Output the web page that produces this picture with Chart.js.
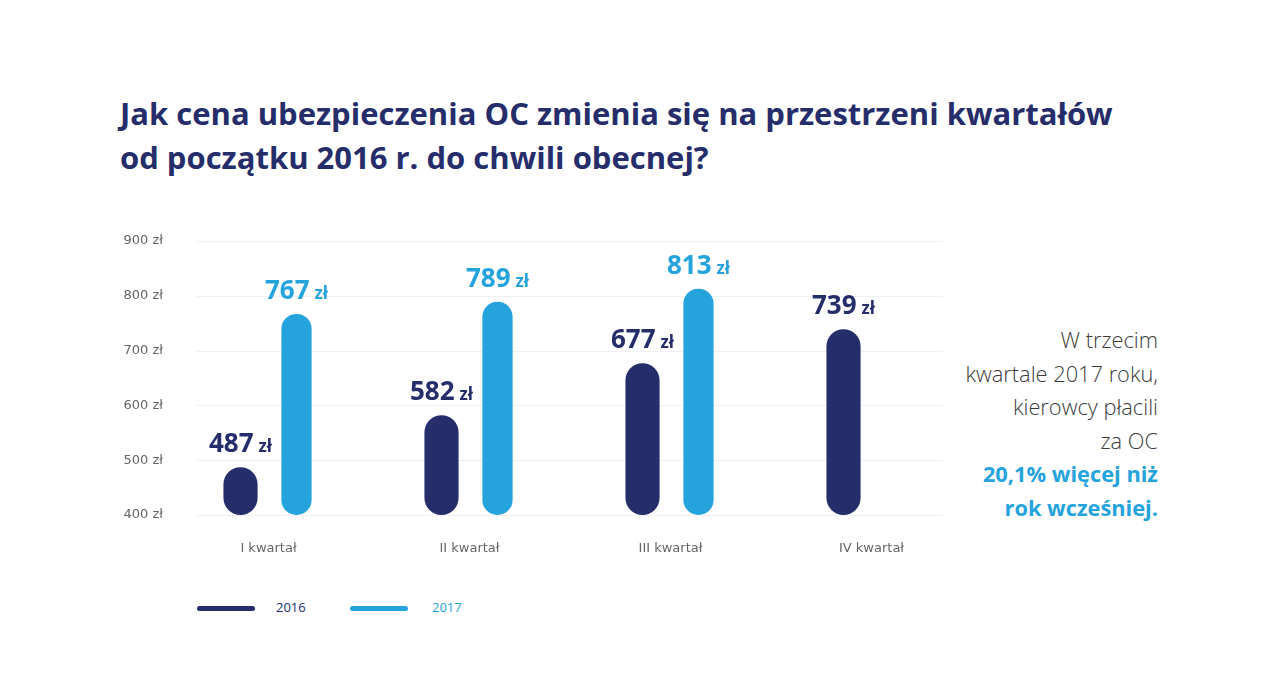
<!DOCTYPE html>
<html lang="pl">
<head>
<meta charset="utf-8">
<script src="https://cdn.jsdelivr.net/npm/chart.js@4/dist/chart.umd.min.js"></script>
<style>
  html, body { margin: 0; padding: 0; background: #fff; }
  body { width: 1280px; height: 674px; position: relative; overflow: hidden; font-family: "Open Sans", sans-serif; }
  #title { position: absolute; left: 120px; top: 91px; margin: 0; font-size: 31px; line-height: 44px; font-weight: 700; color: #262d6b; }
  #side { position: absolute; right: 122px; top: 323px; text-align: right; font-size: 21.8px; line-height: 33.5px; font-weight: 300; color: #3c3c3c; }
  #side b { color: #25a3dc; font-weight: 700; }
  #legend { position: absolute; left: 197px; top: 598px; font-size: 13px; }
  #legend span { position: absolute; white-space: nowrap; top: 0; }
  #legend i { position: absolute; top: 8px; width: 58px; height: 5px; border-radius: 3px; }
  canvas { position: absolute; left: 0; top: 0; }
</style>
</head>
<body>
<h1 id="title">Jak cena ubezpieczenia OC zmienia się na przestrzeni kwartałów<br>od początku 2016 r. do chwili obecnej?</h1>
<div id="side">W trzecim<br>kwartale 2017 roku,<br>kierowcy płacili<br>za OC<br><b>20,1% więcej niż<br>rok wcześniej.</b></div>
<div id="legend">
  <i style="left:0;background:#262d6b"></i><span style="left:79px;color:#262d6b">2016</span>
  <i style="left:153px;background:#25a3dc"></i><span style="left:235px;color:#25a3dc">2017</span>
</div>
<canvas id="chart" width="1280" height="674"></canvas>
<script>
const quarters = ['I kwartał', 'II kwartał', 'III kwartał', 'IV kwartał'];
const prices2016 = [487, 582, 677, 739];
const prices2017 = [767, 789, 813, null];
const yTicks = [400, 500, 600, 700, 800, 900];

const navy = '#262d6b';
const blue = '#25a3dc';

// round all four corners of a bar
const pill = r => ({ topLeft: r, topRight: r, bottomLeft: r, bottomRight: r });

const valueLabels = {
    id: 'valueLabels',
    afterDatasetsDraw(chart) {
        const ctx = chart.ctx;
        chart.data.datasets.forEach((ds, i) => {
            const meta = chart.getDatasetMeta(i);
            meta.data.forEach((bar, j) => {
                const v = ds.data[j];
                if (v == null) return;
                ctx.save();
                ctx.fillStyle = ds.backgroundColor;
                ctx.textBaseline = 'alphabetic';
                ctx.textAlign = 'left';
                ctx.font = '700 26px "Open Sans"';
                const numW = ctx.measureText(String(v)).width;
                ctx.font = '700 17px "Open Sans"';
                const unitW = ctx.measureText('zł').width;
                const total = numW + 5 + unitW;
                const x0 = bar.x - total / 2;
                const y = bar.y - 15;
                ctx.font = '700 26px "Open Sans"';
                ctx.fillText(String(v), x0, y);
                ctx.font = '700 17px "Open Sans"';
                ctx.fillText('zł', x0 + numW + 5, y);
                ctx.restore();
            });
        });
    }
};

const gridLines = {
    id: 'gridLines',
    beforeDatasetsDraw(chart) {
        const ctx = chart.ctx;
        const y = chart.scales.y;
        ctx.save();
        ctx.strokeStyle = '#eef0f3';
        ctx.lineWidth = 1;
        yTicks.forEach(t => {
            const py = Math.round(y.getPixelForValue(t)) + 0.5;
            ctx.beginPath();
            ctx.moveTo(197, py);
            ctx.lineTo(943, py);
            ctx.stroke();
        });
        ctx.restore();
    }
};

new Chart(document.getElementById('chart'), {
    type: 'bar',
    data: {
        labels: quarters,
        datasets: [{
            label: '2016',
            data: prices2016,
            backgroundColor: navy,
            barPercentage: 0.61,
            borderRadius: pill(17),
            borderSkipped: false
        }, {
            label: '2017',
            data: prices2017,
            backgroundColor: blue,
            barPercentage: 0.54,
            borderRadius: pill(15),
            borderSkipped: false
        }]
    },
    options: {
        responsive: false,
        animation: false,
        layout: { padding: { left: 108, right: 308, top: 241, bottom: 109 } },
        datasets: { bar: { categoryPercentage: 0.557, base: yTicks[0] } },
        plugins: {
            legend: { display: false },
            tooltip: { enabled: false }
        },
        scales: {
            x: {
                grid: { display: false, drawTicks: false },
                border: { display: false },
                ticks: { color: '#666', padding: 26, font: { family: 'DejaVu Sans', size: 13 } },
                afterFit(scale) { scale.height = 50; }
            },
            y: {
                min: 400,
                max: 900,
                grid: { display: false, drawTicks: false },
                border: { display: false },
                afterBuildTicks(scale) { scale.ticks = yTicks.map(v => ({ value: v })); },
                afterFit(scale) { scale.width = 60; },
                ticks: {
                    color: '#666',
                    padding: 5,
                    font: { family: 'DejaVu Sans', size: 13 },
                    callback: v => v + ' zł'
                }
            }
        }
    },
    plugins: [gridLines, valueLabels]
});
</script>
</body>
</html>
